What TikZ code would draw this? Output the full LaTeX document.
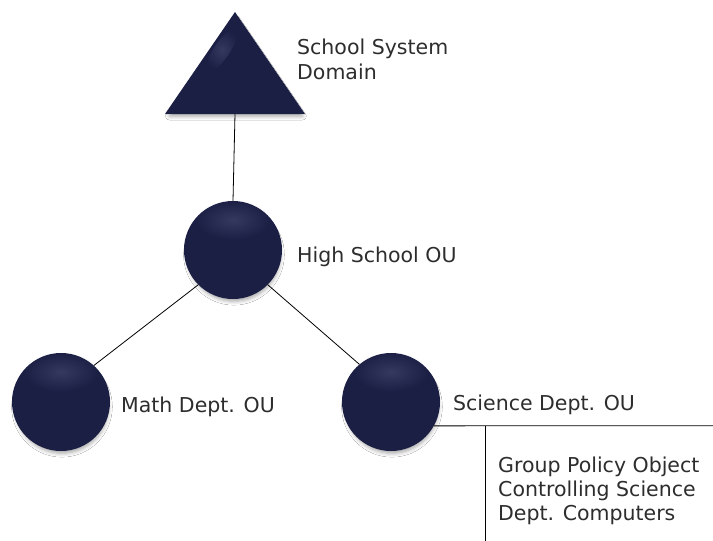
\documentclass[tikz,border=0pt]{standalone}
\usepackage{fontspec}
\setmainfont{DejaVu Sans}
\usetikzlibrary{shadows.blur,fadings,calc}
\definecolor{navy}{RGB}{28,31,68}
\definecolor{navyhi}{RGB}{85,89,130}
\definecolor{txt}{RGB}{45,45,45}
\tikzset{
  softshadow/.style={blur shadow={shadow xshift=1pt, shadow yshift=-5pt, shadow scale=0.95,
    shadow opacity=35, shadow blur radius=4pt}},
  ou/.style={circle, minimum size=98pt, inner sep=0pt, draw=none, fill=navy, softshadow},
  lbl/.style={anchor=west, text=txt, font=\fontsize{20.5}{24}\selectfont, align=left, inner sep=0pt},
  link/.style={draw=black, line width=0.8pt}
}
\tikzfading[name=glow, inner color=transparent!55, outer color=transparent!100]
\newcommand\ouglow[1]{%
  \fill[navyhi, path fading=glow] ($(#1)+(0,-30)$) ellipse (38pt and 20pt);}
\begin{document}
\begin{tikzpicture}[x=1pt,y=-1pt]
\useasboundingbox (0,0) rectangle (713,541);
\fill[white] (0,0) rectangle (713,541);

% domain triangle
\fill[navy, softshadow] (235,12) -- (305,114) -- (165,114) -- cycle;
\fill[navyhi, path fading=glow, rotate around={-34:(222,50)}] (222,50) ellipse (8pt and 26pt);
\coordinate (dom) at (235,114);

% organisational units
\node[ou] (hs) at (233,250) {};
\node[ou] (math) at (61,402) {};
\node[ou] (sci) at (391,402) {};
\ouglow{hs}
\ouglow{math}
\ouglow{sci}

% links
\draw[link] (dom) -- (hs.north);
\draw[link] (hs.225) -- (math.48);
\draw[link] (hs.315) -- (sci.130);

% group policy bracket
\coordinate (gpoend) at (713,425.8);
\coordinate (gpotop) at (485,425.8);
\coordinate (gpobot) at (485,541);
\draw[link] (sci.-29) -- (gpoend);
\draw[link] (gpotop) -- (gpobot);

% labels
\node[lbl, font=\fontsize{20.5}{25}\selectfont] (tdom) at (297,59.5) {School System\\Domain};
\node[lbl] (ths) at (297,257) {High School OU};
\node[lbl] (tmath) at (121,407) {Math Dept. OU};
\node[lbl] (tsci) at (453,405) {Science Dept. OU};
\node[lbl] (tgpo) at (498,490.5) {Group Policy Object\\Controlling Science\\Dept. Computers};
\end{tikzpicture}
\end{document}
